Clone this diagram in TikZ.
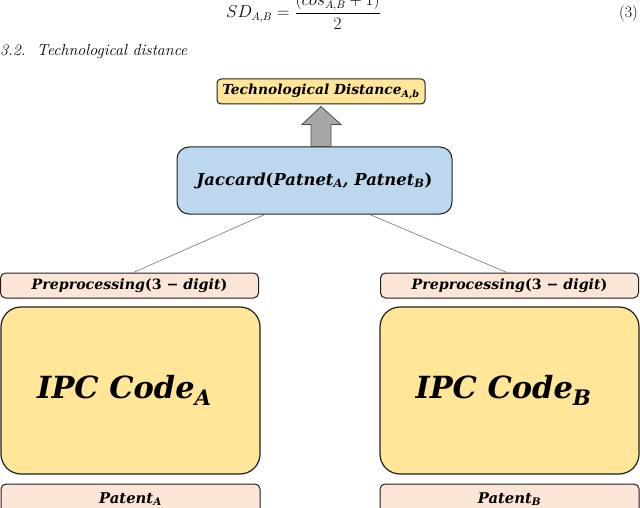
\documentclass[tikz,border=0pt]{standalone}
\usepackage{fontspec}
\newfontfamily\boxfont{DejaVu Serif}
\usetikzlibrary{calc}
\definecolor{ylw}{HTML}{FFE699}
\definecolor{blu}{HTML}{BDD7EE}
\definecolor{pch}{HTML}{FBE5D6}
\definecolor{edge}{HTML}{1E1E1E}
\definecolor{arrowgray}{HTML}{A9A6A6}
\tikzset{
  boxbase/.style={draw=edge, line width=1pt, inner sep=0pt, align=center,
    font=\boxfont\bfseries\itshape},
  smallbox/.style={boxbase, fill=pch, rounded corners=5pt, minimum width=258pt, minimum height=25pt},
  bigbox/.style={boxbase, fill=ylw, rounded corners=20pt, minimum width=259pt, minimum height=167pt,
    line width=1.2pt},
  link/.style={draw=black!55, line width=0.6pt},
}
\begin{document}
\begin{tikzpicture}[x=1pt,y=-1pt]
\useasboundingbox (0,0) rectangle (640,508);
% header text
\node[anchor=base west, inner sep=0pt] (eq) at (226,17.5)
  {\fontsize{16.3}{19}\selectfont $\displaystyle SD_{A,B} = \frac{(cos_{A,B}+1)}{2}$};
\node[anchor=base east, inner sep=0pt] (eqn) at (638,17.5)
  {\fontsize{16}{19}\selectfont (3)};
\node[anchor=base west, inner sep=0pt] (sec) at (0,56)
  {\fontsize{16}{19}\selectfont\itshape 3.2.\ \ Technological distance};
% top boxes
\node[boxbase, fill=ylw, rounded corners=4pt, minimum width=208pt, minimum height=25pt,
  font=\boxfont\bfseries\itshape\fontsize{13.8}{17}\selectfont] (td) at (321,91.5)
  {Technological Distance\textsubscript{A,b}};
\node[boxbase, fill=blu, rounded corners=12pt, minimum width=275pt, minimum height=67pt,
  font=\boxfont\bfseries\itshape\fontsize{16.4}{20}\selectfont] (jac) at (314.5,180.5)
  {Jaccard\textup{(}Patnet\textsubscript{A}, Patnet\textsubscript{B}\textup{)}};
% block arrow
\draw[draw=black!70, fill=arrowgray, line width=0.8pt]
  ($(jac.north)+(-3.5,0)$) -- ++(0,-22) -- ++(-9,0) -- ($(td.south)+(0,2)$)
  -- ($(jac.north)+(26.5,-22)$) -- ++(-10,0) -- ($(jac.north)+(16.5,0)$) -- cycle;
% left column
\node[smallbox, font=\boxfont\bfseries\itshape\fontsize{14.2}{17}\selectfont] (preA) at (129.5,285.5)
  {Preprocessing\textup{(3 − }digit\textup{)}};
\node[bigbox, font=\boxfont\bfseries\itshape\fontsize{30.5}{36}\selectfont] (ipcA) at (130.5,390.5)
  {\hspace*{-12pt}IPC Code\textsubscript{A}};
\node[smallbox, minimum width=259pt, minimum height=30pt, font=\boxfont\bfseries\itshape\fontsize{14.8}{18}\selectfont] (patA) at (130.5,499)
  {Patent\textsubscript{A}};
% right column
\node[smallbox, font=\boxfont\bfseries\itshape\fontsize{14.2}{17}\selectfont] (preB) at (509.5,285.5)
  {Preprocessing\textup{(3 − }digit\textup{)}};
\node[bigbox, font=\boxfont\bfseries\itshape\fontsize{30.5}{36}\selectfont] (ipcB) at (509.5,390.5)
  {\hspace*{-12pt}IPC Code\textsubscript{B}};
\node[smallbox, minimum width=259pt, minimum height=30pt, font=\boxfont\bfseries\itshape\fontsize{14.8}{18}\selectfont] (patB) at (509.5,499)
  {Patent\textsubscript{B}};
% connectors
\draw[link] ($(jac.south west)!0.32!(jac.south east)$) -- ($(preA.north west)!0.515!(preA.north east)$);
\draw[link] ($(jac.south west)!0.70!(jac.south east)$) -- ($(preB.north west)!0.49!(preB.north east)$);
\end{tikzpicture}
\end{document}
